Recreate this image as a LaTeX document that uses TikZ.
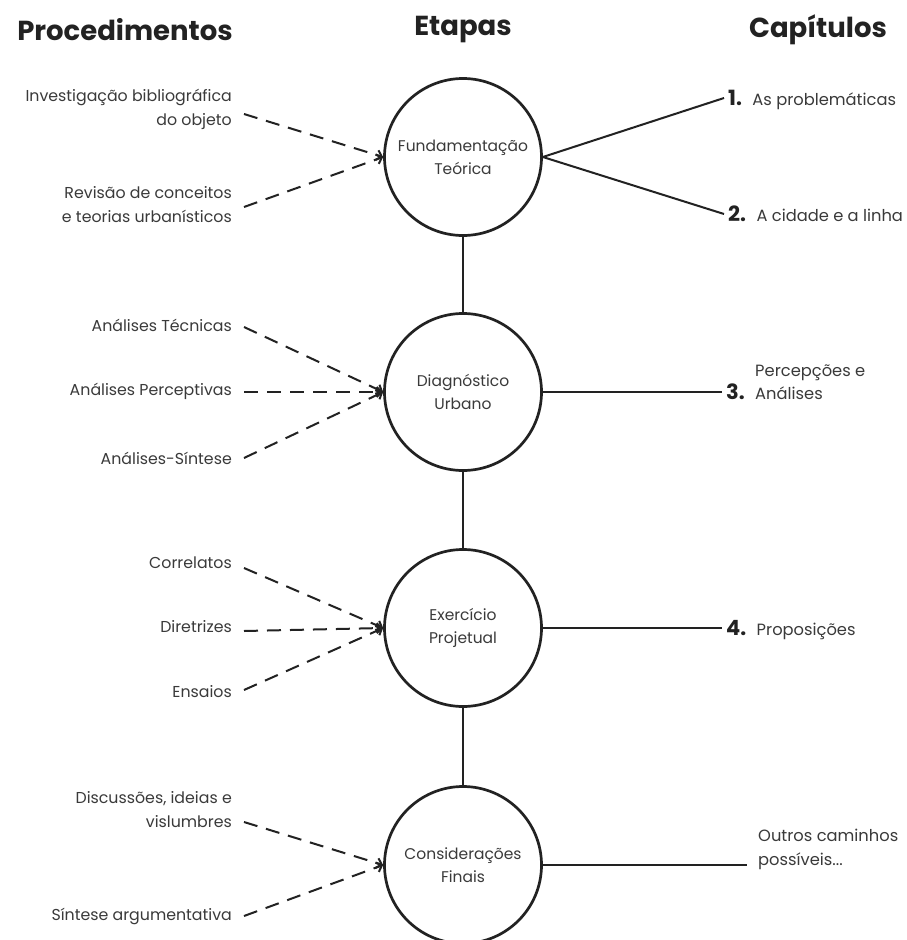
\documentclass[tikz,border=0pt]{standalone}
\usepackage{fontspec}
\setmainfont{Poppins}
\usetikzlibrary{arrows.meta}
\definecolor{ink}{HTML}{222222}
\definecolor{txt}{HTML}{3A3A3A}
\begin{document}
\begin{tikzpicture}[x=1pt,y=-1pt,
  stage/.style={draw=ink,circle,line width=2.7pt,minimum size=157pt,inner sep=0pt,align=center,
     text=txt,font=\fontsize{15.5}{23}\selectfont},
  head/.style={text=ink,font=\fontsize{27.5}{30}\selectfont\bfseries},
  proc/.style={anchor=east,align=right,inner sep=0pt,text=txt,font=\fontsize{15.8}{24}\selectfont},
  chap/.style={anchor=west,align=left,inner sep=0pt,text=txt,font=\fontsize{16.3}{24}\selectfont},
  num/.style={anchor=west,inner sep=0pt,text=ink,font=\fontsize{21}{24}\selectfont\bfseries},
  dashline/.style={draw=ink,line width=2pt,dash pattern=on 14pt off 9pt,-{Straight Barb[length=5pt,width=10pt]}},
  solid/.style={draw=ink,line width=2pt}]
\clip (0,0) rectangle (906,940);
\useasboundingbox (0,0) rectangle (906,940);
\fill[white] (0,0) rectangle (906,940);

% headers
\node[head] (h1) at (125,30) {Procedimentos};
\node[head] (h2) at (463,30) {Etapas};
\node[head] (h3) at (818,30) {Capítulos};

% stages
\node[stage] (c1) at (463,157) {Fundamentação\\Teórica};
\node[stage] (c2) at (463,392) {Diagnóstico\\Urbano};
\node[stage] (c3) at (463,628) {Exercício\\Projetual};
\node[stage] (c4) at (463,865) {Considerações\\Finais};

\draw[solid] (c1) -- (c2);
\draw[solid] (c2) -- (c3);
\draw[solid] (c3) -- (c4);

% procedures
\node[proc] (p1) at (232,109) {Investigação bibliográfica\\do objeto};
\node[proc] (p2) at (232,205) {Revisão de conceitos\\e teorias urbanísticos};
\node[proc] (p3) at (232,325) {Análises Técnicas};
\node[proc] (p4) at (232,391) {Análises Perceptivas};
\node[proc] (p5) at (232,458) {Análises-Síntese};
\node[proc] (p6) at (232,563) {Correlatos};
\node[proc] (p7) at (232,627) {Diretrizes};
\node[proc] (p8) at (232,692) {Ensaios};
\node[proc] (p9) at (232,810) {Discussões, ideias e\\vislumbres};
\node[proc] (p10) at (232,916) {Síntese argumentativa};

\coordinate (s1) at (244,114);
\coordinate (s2) at (244,207);
\coordinate (s3) at (244,327);
\coordinate (s4) at (244,392);
\coordinate (s5) at (244,458);
\coordinate (s6) at (244,568);
\coordinate (s7) at (244,631);
\coordinate (s8) at (244,690);
\coordinate (s9) at (244,822);
\coordinate (s10) at (244,916);

\draw[dashline] (s1) -- (c1.west);
\draw[dashline] (s2) -- (c1.west);
\draw[dashline] (s3) -- (c2.west);
\draw[dashline] (s4) -- (c2.west);
\draw[dashline] (s5) -- (c2.west);
\draw[dashline] (s6) -- (c3.west);
\draw[dashline] (s7) -- (c3.west);
\draw[dashline] (s8) -- (c3.west);
\draw[dashline] (s9) -- (c4.west);
\draw[dashline] (s10) -- (c4.west);

% chapters
\coordinate (e1) at (724,98);
\coordinate (e2) at (724,214);
\coordinate (e3) at (722,392);
\coordinate (e4) at (722,628);
\coordinate (e5) at (747,865);

\draw[solid] (c1.east) -- (e1);
\draw[solid] (c1.east) -- (e2);
\draw[solid] (c2.east) -- (e3);
\draw[solid] (c3.east) -- (e4);
\draw[solid] (c4.east) -- (e5);

\node[num] (n1) at ([xshift=4pt]e1) {1.};
\node[chap,anchor=base west] (t1) at ([xshift=10pt]n1.base east) {As problemáticas};
\node[num] (n2) at ([xshift=4pt]e2) {2.};
\node[chap,anchor=base west] (t2) at ([xshift=10pt]n2.base east) {A cidade e a linha};
\node[num] (n3) at ([xshift=4pt]e3) {3.};
\node[chap,anchor=base west] (t3) at ([xshift=10pt]n3.base east) {Análises};
\node[chap,anchor=base west] (t3b) at ([yshift=23pt]t3.base west) {Percepções e};
\node[num] (n4) at ([xshift=4pt]e4) {4.};
\node[chap,anchor=base west] (t4) at ([xshift=10pt]n4.base east) {Proposições};
\node[chap] (t5) at (758,849) {Outros caminhos\\possíveis...};
\end{tikzpicture}
\end{document}
